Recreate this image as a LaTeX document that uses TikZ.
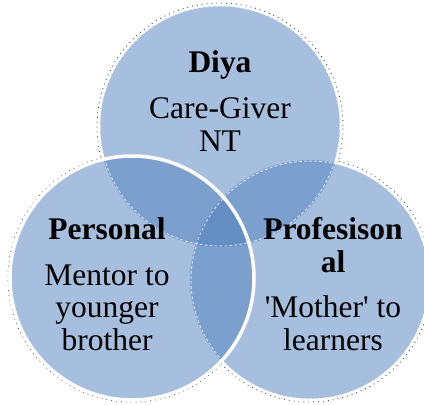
\documentclass[tikz,border=0pt]{standalone}
\usepackage{fontspec}
\setmainfont{Liberation Serif}
\definecolor{vlight}{HTML}{A7BFDE}
\definecolor{vmid}{HTML}{7BA0CD}
\definecolor{vdark}{HTML}{648EC4}
\begin{document}
\begin{tikzpicture}[x=1pt,y=-1pt,
  lbl/.style={font=\fontsize{31.5}{34}\selectfont, anchor=base, inner sep=0pt},
  ttl/.style={font=\fontsize{31.5}{34}\selectfont\bfseries, anchor=base, inner sep=0pt},
  fringe/.style={black!75, line width=0.9pt, dash pattern=on 0.9pt off 4pt},
  rim/.style={white, line width=#1},
  faint/.style={white, opacity=0.6, line width=1pt, dash pattern=on 3pt off 2pt}]
\useasboundingbox (0,0) rectangle (424,405);
\coordinate (T) at (220,126);
\coordinate (L) at (132,278);
\coordinate (R) at (310,280);
% shadow fringe
\draw[fringe] (T) circle[radius=123pt];
\draw[fringe] (L) circle[radius=124pt];
\draw[fringe] (R) circle[radius=122pt];
% fills
\fill[vlight] (T) circle[radius=121pt];
\fill[vlight] (L) circle[radius=122pt];
\fill[vlight] (R) circle[radius=120pt];
\begin{scope}
  \clip (T) circle[radius=121pt];
  \fill[vmid] (L) circle[radius=122pt];
  \fill[vmid] (R) circle[radius=120pt];
\end{scope}
\begin{scope}
  \clip (L) circle[radius=122pt];
  \fill[vmid] (R) circle[radius=120pt];
  \clip (T) circle[radius=121pt];
  \fill[vdark] (R) circle[radius=120pt];
\end{scope}
% faint inner arcs
\draw[faint] (T) circle[radius=120pt];
\draw[faint] (R) circle[radius=119pt];
% outer rims of top circle
\begin{scope}[even odd rule]
  \clip (-20,-20) rectangle (444,425) (L) circle[radius=122pt];
  \clip (-20,-20) rectangle (444,425) (R) circle[radius=120pt];
  \draw[rim=2pt] (T) circle[radius=121pt];
\end{scope}
% outer rims of right circle
\begin{scope}[even odd rule]
  \clip (-20,-20) rectangle (444,425) (L) circle[radius=122pt];
  \clip (-20,-20) rectangle (444,425) (T) circle[radius=121pt];
  \draw[rim=2.5pt] (R) circle[radius=120pt];
\end{scope}
% left circle rim on top
\draw[rim=3.5pt] (L) circle[radius=122pt];
% texts
\node[ttl] (diya) at (220,72) {Diya};
\node[lbl] (cg) at (220,118) {Care-Giver};
\node[lbl] (nt) at (220,151) {NT};
\node[ttl] (pers) at (107,239) {Personal};
\node[lbl] (m1) at (107,285) {Mentor to};
\node[lbl] (m2) at (107,317) {younger};
\node[lbl] (m3) at (107,350) {brother};
\node[ttl] (prof1) at (333,239) {Profesison};
\node[ttl] (prof2) at (333,272) {al};
\node[lbl] (mo1) at (333,317) {\textquotesingle Mother\textquotesingle{} to};
\node[lbl] (mo2) at (333,350) {learners};
\end{tikzpicture}
\end{document}
